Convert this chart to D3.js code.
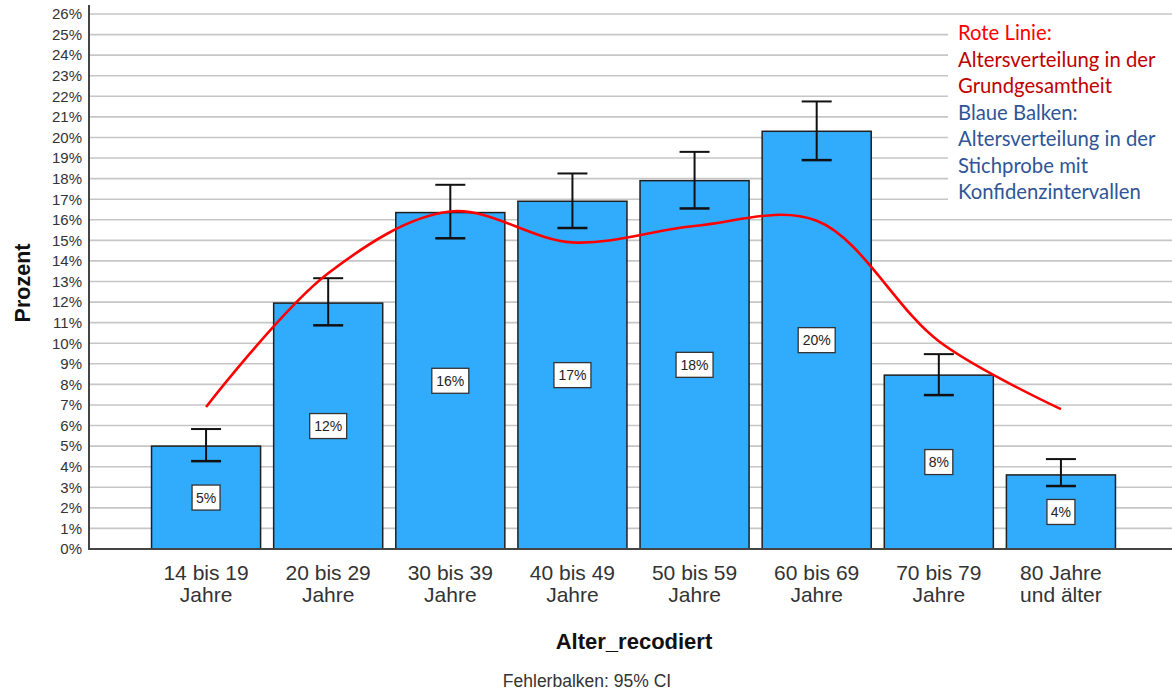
<!DOCTYPE html>
<html><head><meta charset="utf-8">
<script src="https://cdn.jsdelivr.net/npm/d3@7"></script>
<style>body{margin:0;background:#fff}svg{display:block}</style>
</head><body>
<svg id="c" width="1172" height="693"></svg>
<script>
const categories = [["14 bis 19","Jahre"],["20 bis 29","Jahre"],["30 bis 39","Jahre"],["40 bis 49","Jahre"],["50 bis 59","Jahre"],["60 bis 69","Jahre"],["70 bis 79","Jahre"],["80 Jahre","und älter"]];
const sample = [5.0, 11.95, 16.35, 16.9, 17.9, 20.3, 8.45, 3.6];
const labels = ["5%","12%","16%","17%","18%","20%","8%","4%"];
const ciLow = [4.27, 10.87, 15.1, 15.6, 16.55, 18.9, 7.48, 3.06];
const ciHigh = [5.83, 13.16, 17.7, 18.25, 19.3, 21.75, 9.47, 4.37];
const population = [6.9, 13.4, 16.4, 14.9, 15.7, 15.95, 10.1, 6.8];
const yTicks = d3.range(0, 27);
const legendLines = [
  {t:"Rote Linie:", c:"#ff0000"},
  {t:"Altersverteilung in der", c:"#c00000"},
  {t:"Grundgesamtheit", c:"#c00000"},
  {t:"Blaue Balken:", c:"#2f5597"},
  {t:"Altersverteilung in der", c:"#2f5597"},
  {t:"Stichprobe  mit", c:"#2f5597"},
  {t:"Konfidenzintervallen", c:"#2f5597"}
];

const svg = d3.select("#c");
const y = d3.scaleLinear().domain([0, 26]).range([549, 14]);
const x = d3.scaleBand().domain(d3.range(categories.length)).range([145, 1122]).paddingInner(0.107).paddingOuter(0.0535);
const font = "'Liberation Sans', Arial, sans-serif";

// gridlines
svg.append("g").selectAll("line").data(yTicks.filter(d => d > 0)).join("line")
  .attr("x1", 90).attr("x2", 1172).attr("y1", d => y(d)).attr("y2", d => y(d))
  .attr("stroke", "#c6c6c6").attr("stroke-width", 1.6);

// legend white box
svg.append("rect").attr("x", 948).attr("y", 22).attr("width", 224).attr("height", 188).attr("fill", "#fff");

// y axis
const yAxis = d3.axisLeft(y).tickValues(yTicks).tickFormat(d => d + "%").tickSize(0).tickPadding(7);
const gy = svg.append("g").attr("transform", "translate(89,0)").call(yAxis);
gy.select(".domain").remove();
gy.selectAll("text").attr("font-family", font).attr("font-size", 15).attr("fill", "#333");
svg.append("line").attr("x1", 89).attr("x2", 89).attr("y1", 5).attr("y2", 550).attr("stroke", "#444").attr("stroke-width", 2);

// bars
svg.append("g").selectAll("rect").data(sample).join("rect")
  .attr("x", (d, i) => x(i)).attr("width", x.bandwidth())
  .attr("y", d => y(d)).attr("height", d => y(0) - y(d))
  .attr("fill", "#31acfd").attr("stroke", "#1f1f1f").attr("stroke-width", 1.5);

// baseline
svg.append("line").attr("x1", 89).attr("x2", 1172).attr("y1", y(0)).attr("y2", y(0)).attr("stroke", "#444").attr("stroke-width", 2);

// value labels
const lg = svg.append("g").selectAll("g").data(sample).join("g")
  .attr("transform", (d, i) => `translate(${x(i) + x.bandwidth() / 2},${y(d / 2)})`);
lg.append("rect").attr("x", (d, i) => -(labels[i].length * 9 + 10) / 2).attr("y", -12.5)
  .attr("width", (d, i) => labels[i].length * 9 + 10).attr("height", 25)
  .attr("fill", "#fff").attr("stroke", "#333").attr("stroke-width", 1.3);
lg.append("text").attr("text-anchor", "middle").attr("dy", "0.36em")
  .attr("font-family", font).attr("font-size", 14).attr("fill", "#222")
  .text((d, i) => labels[i]);

// error bars
const eb = svg.append("g").attr("stroke", "#111").attr("stroke-width", 2);
categories.forEach((c, i) => {
  const cx = x(i) + x.bandwidth() / 2;
  eb.append("line").attr("x1", cx).attr("x2", cx).attr("y1", y(ciLow[i])).attr("y2", y(ciHigh[i]));
  eb.append("line").attr("x1", cx - 15).attr("x2", cx + 15).attr("y1", y(ciLow[i])).attr("y2", y(ciLow[i])).attr("stroke-width", 2.5);
  eb.append("line").attr("x1", cx - 15).attr("x2", cx + 15).attr("y1", y(ciHigh[i])).attr("y2", y(ciHigh[i]));
});

// red population line
const line = d3.line().x((d, i) => x(i) + x.bandwidth() / 2).y(d => y(d)).curve(d3.curveCatmullRom.alpha(0.5));
svg.append("path").attr("d", line(population)).attr("fill", "none").attr("stroke", "#ff0000").attr("stroke-width", 2.6);

// x tick labels
const xt = svg.append("g").selectAll("text").data(categories).join("text")
  .attr("x", (d, i) => x(i) + x.bandwidth() / 2).attr("y", 580)
  .attr("text-anchor", "middle").attr("font-family", font).attr("font-size", 21).attr("fill", "#333");
xt.append("tspan").attr("x", (d, i) => x(i) + x.bandwidth() / 2).text(d => d[0]);
xt.append("tspan").attr("x", (d, i) => x(i) + x.bandwidth() / 2).attr("dy", 22).text(d => d[1]);

// axis titles
svg.append("text").attr("x", 634).attr("y", 649).attr("text-anchor", "middle")
  .attr("font-family", font).attr("font-size", 22).attr("font-weight", "bold").attr("fill", "#111").text("Alter_recodiert");
svg.append("text").attr("transform", "translate(30,283) rotate(-90)").attr("text-anchor", "middle")
  .attr("font-family", font).attr("font-size", 21.5).attr("font-weight", "bold").attr("fill", "#111").text("Prozent");
svg.append("text").attr("x", 587).attr("y", 687).attr("text-anchor", "middle")
  .attr("font-family", font).attr("font-size", 17.5).attr("fill", "#333").text("Fehlerbalken: 95% CI");

// legend text
svg.append("g").selectAll("text").data(legendLines).join("text")
  .attr("x", 958).attr("y", (d, i) => 40 + i * 26.5)
  .attr("font-family", "Lato, 'Open Sans', sans-serif").attr("font-size", 20.3)
  .attr("fill", d => d.c).text(d => d.t);
</script>
</body></html>
